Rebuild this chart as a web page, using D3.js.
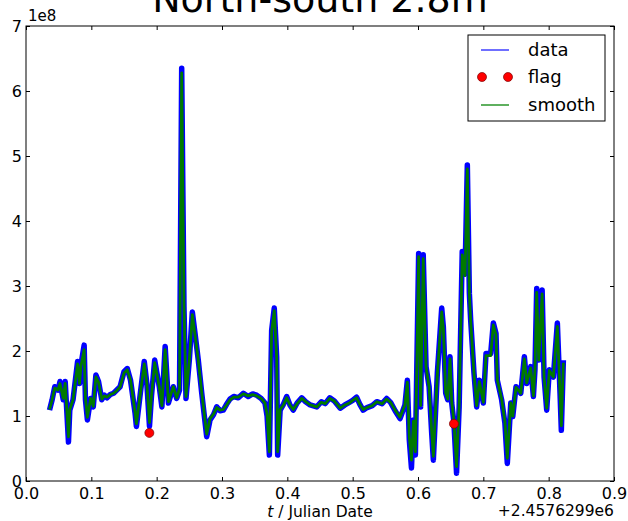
<!DOCTYPE html>
<html>
<head>
<meta charset="utf-8">
<script src="https://cdn.jsdelivr.net/npm/d3@7/dist/d3.min.js"></script>
<style>
  body { margin: 0; background: #fff; }
  text { font-family: "DejaVu Sans", sans-serif; fill: #000; }
</style>
</head>
<body>
<svg id="chart" width="628" height="521"></svg>
<script>
// time offset from 2.4576299e6 (Julian Date)
var times = [0.036, 0.040, 0.044, 0.049, 0.052, 0.057, 0.060, 0.065, 0.067, 0.072,
  0.079, 0.082, 0.084, 0.089, 0.091, 0.094, 0.099, 0.103, 0.107, 0.111,
  0.116, 0.120, 0.124, 0.129, 0.134, 0.139, 0.144, 0.150, 0.155, 0.160,
  0.167, 0.169, 0.175, 0.181, 0.185, 0.189, 0.192, 0.197, 0.204, 0.208,
  0.213, 0.218, 0.2255, 0.2306, 0.235, 0.2383, 0.2418, 0.2449, 0.250, 0.2546,
  0.2587, 0.2637, 0.269, 0.2766, 0.2817, 0.287, 0.2919, 0.297, 0.302, 0.307,
  0.3123, 0.318, 0.325, 0.3327, 0.340, 0.347, 0.353, 0.360, 0.3658, 0.369,
  0.3725, 0.376, 0.380, 0.3837, 0.3852, 0.389, 0.394, 0.399, 0.404, 0.409,
  0.415, 0.422, 0.428, 0.435, 0.445, 0.452, 0.458, 0.465, 0.472, 0.481,
  0.488, 0.495, 0.500, 0.506, 0.511, 0.516, 0.522, 0.530, 0.537, 0.545,
  0.552, 0.558, 0.565, 0.5725, 0.580, 0.5837, 0.5867, 0.590, 0.593, 0.596,
  0.601, 0.604, 0.608, 0.6123, 0.617, 0.621, 0.6235, 0.6296, 0.6363, 0.6388,
  0.6424, 0.6455, 0.649, 0.6516, 0.655, 0.659, 0.663, 0.6677, 0.672, 0.6755,
  0.6786, 0.6806, 0.6857, 0.6898, 0.6939, 0.700, 0.7041, 0.7113, 0.7153, 0.7194,
  0.7214, 0.728, 0.733, 0.7367, 0.742, 0.745, 0.750, 0.7573, 0.7628, 0.7664,
  0.7725, 0.7766, 0.779, 0.7817, 0.7848, 0.790, 0.793, 0.797, 0.801, 0.8072,
  0.8133, 0.8174, 0.8194, 0.8225];

// values in units of 1e8
var dataVals = [1.09, 1.25, 1.45, 1.40, 1.53, 1.25, 1.53, 0.60, 1.09, 1.25,
  1.84, 1.50, 1.78, 2.09, 1.25, 0.94, 1.27, 1.14, 1.63, 1.53,
  1.25, 1.32, 1.28, 1.33, 1.35, 1.40, 1.45, 1.68, 1.73, 1.55,
  1.04, 0.84, 1.35, 1.84, 1.50, 0.84, 1.30, 1.86, 1.45, 1.14,
  2.07, 1.20, 1.45, 1.27, 1.40, 6.35, 2.68, 1.27, 1.86, 2.60,
  2.27, 1.86, 1.35, 0.68, 0.94, 1.02, 1.14, 1.08, 1.09, 1.18,
  1.26, 1.30, 1.28, 1.35, 1.30, 1.34, 1.32, 1.27, 1.20, 1.00,
  0.40, 2.32, 2.66, 1.91, 0.40, 1.09, 1.18, 1.30, 1.17, 1.09,
  1.20, 1.28, 1.22, 1.17, 1.14, 1.22, 1.19, 1.28, 1.23, 1.12,
  1.17, 1.21, 1.24, 1.29, 1.18, 1.09, 1.13, 1.16, 1.22, 1.19,
  1.27, 1.21, 1.08, 0.96, 1.17, 1.55, 0.63, 0.20, 0.94, 0.40,
  3.50, 1.14, 3.48, 1.76, 1.45, 0.73, 0.32, 1.66, 2.66, 2.37,
  1.35, 1.25, 1.91, 1.20, 0.90, 0.12, 1.14, 3.53, 3.19, 4.86,
  2.89, 2.48, 1.66, 1.14, 1.55, 1.20, 1.96, 1.96, 2.43, 2.27,
  1.55, 1.25, 0.89, 0.27, 1.20, 0.99, 1.45, 1.35, 1.91, 1.50,
  1.76, 1.30, 1.71, 2.96, 1.86, 2.94, 1.60, 1.09, 1.71, 1.60,
  2.43, 1.35, 0.78, 1.86];

var smoothVals = [1.10, 1.25, 1.43, 1.40, 1.50, 1.27, 1.50, 0.68, 1.10, 1.25,
  1.80, 1.50, 1.76, 2.02, 1.27, 0.98, 1.27, 1.15, 1.60, 1.52,
  1.26, 1.31, 1.29, 1.33, 1.35, 1.39, 1.45, 1.66, 1.71, 1.55,
  1.06, 0.88, 1.35, 1.80, 1.50, 0.90, 1.30, 1.82, 1.45, 1.16,
  2.02, 1.22, 1.45, 1.28, 1.42, 6.28, 2.70, 1.30, 1.86, 2.56,
  2.25, 1.86, 1.36, 0.72, 0.96, 1.03, 1.13, 1.09, 1.10, 1.17,
  1.25, 1.29, 1.29, 1.34, 1.31, 1.33, 1.31, 1.27, 1.20, 1.03,
  0.45, 2.30, 2.62, 1.90, 0.45, 1.10, 1.17, 1.28, 1.17, 1.10,
  1.19, 1.27, 1.22, 1.17, 1.14, 1.21, 1.19, 1.27, 1.23, 1.12,
  1.17, 1.20, 1.24, 1.28, 1.18, 1.10, 1.13, 1.16, 1.22, 1.19,
  1.26, 1.21, 1.09, 0.98, 1.17, 1.52, 0.68, 0.32, 0.92, 0.45,
  3.45, 1.16, 3.42, 1.75, 1.45, 0.76, 0.38, 1.64, 2.60, 2.35,
  1.36, 1.26, 1.88, 1.22, 0.92, 0.22, 1.16, 3.48, 3.16, 4.80,
  2.88, 2.46, 1.66, 1.16, 1.53, 1.21, 1.93, 1.93, 2.40, 2.25,
  1.56, 1.26, 0.92, 0.35, 1.20, 1.00, 1.44, 1.35, 1.88, 1.51,
  1.74, 1.31, 1.70, 2.90, 1.86, 2.88, 1.60, 1.12, 1.70, 1.60,
  2.38, 1.36, 0.85, 1.82];

var flagTimes = [0.1888, 0.655];
var flagVals = [0.74, 0.88];

var xTicks = [0.0, 0.1, 0.2, 0.3, 0.4, 0.5, 0.6, 0.7, 0.8, 0.9];
var yTicks = [0, 1, 2, 3, 4, 5, 6, 7];
var legendNames = ["data", "flag", "smooth"];

var svg = d3.select("#chart");

// plot frame in pixels
var frameLeft = 26, frameRight = 614, frameTop = 26, frameBottom = 481;

var x = d3.scaleLinear().domain([0, 0.9]).range([frameLeft, frameRight]);
var y = d3.scaleLinear().domain([0, 7]).range([frameBottom, frameTop]);

// title (partly above the window, like the reference)
svg.append("text")
  .attr("x", (frameLeft + frameRight) / 2)
  .attr("y", 12)
  .attr("text-anchor", "middle")
  .attr("font-size", "38px")
  .text("North-south 2.8m");

var plot = svg.append("g");

plot.append("clipPath").attr("id", "clip")
  .append("rect")
  .attr("x", frameLeft).attr("y", frameTop)
  .attr("width", frameRight - frameLeft).attr("height", frameBottom - frameTop);

var rows = times.map(function(t, i) {
  return {t: t, d: dataVals[i], s: smoothVals[i]};
});

var dataLine = d3.line()
  .x(function(r) { return x(r.t); })
  .y(function(r) { return y(r.d); });

var smoothLine = d3.line()
  .x(function(r) { return x(r.t); })
  .y(function(r) { return y(r.s); });

plot.append("path")
  .datum(rows)
  .attr("clip-path", "url(#clip)")
  .attr("d", dataLine)
  .attr("fill", "none")
  .attr("stroke", "#0000ff")
  .attr("stroke-width", 5.5)
  .attr("stroke-linejoin", "round");

plot.append("path")
  .datum(rows)
  .attr("clip-path", "url(#clip)")
  .attr("d", smoothLine)
  .attr("fill", "none")
  .attr("stroke", "#007a00")
  .attr("stroke-width", 2.8)
  .attr("stroke-linejoin", "round");

plot.selectAll(".flag")
  .data(flagTimes)
  .enter().append("circle")
  .attr("class", "flag")
  .attr("cx", function(t) { return x(t); })
  .attr("cy", function(t, i) { return y(flagVals[i]); })
  .attr("r", 4.5)
  .attr("fill", "#ff0000")
  .attr("stroke", "#7a0000")
  .attr("stroke-width", 0.7);

// axes: ticks point inward on all four sides
svg.append("g")
  .attr("transform", "translate(0," + frameBottom + ")")
  .call(d3.axisBottom(x).tickValues(xTicks).tickSizeInner(-4).tickSizeOuter(0)
    .tickPadding(7).tickFormat(d3.format(".1f")));

svg.append("g")
  .attr("transform", "translate(0," + frameTop + ")")
  .call(d3.axisTop(x).tickValues(xTicks).tickSizeInner(-4).tickSizeOuter(0).tickFormat(""));

svg.append("g")
  .attr("transform", "translate(" + frameLeft + ",0)")
  .call(d3.axisLeft(y).tickValues(yTicks).tickSizeInner(-4).tickSizeOuter(0)
    .tickPadding(4).tickFormat(d3.format("d")));

svg.append("g")
  .attr("transform", "translate(" + frameRight + ",0)")
  .call(d3.axisRight(y).tickValues(yTicks).tickSizeInner(-4).tickSizeOuter(0).tickFormat(""));

svg.selectAll(".domain").remove();
svg.selectAll(".tick line").attr("stroke", "#000");
svg.selectAll(".tick text")
  .attr("font-size", "16px")
  .attr("font-family", "DejaVu Sans, sans-serif")
  .attr("fill", "#000");

svg.append("rect")
  .attr("x", frameLeft).attr("y", frameTop)
  .attr("width", frameRight - frameLeft).attr("height", frameBottom - frameTop)
  .attr("fill", "none")
  .attr("stroke", "#000")
  .attr("stroke-width", 1);

// exponent and offset labels
svg.append("text")
  .attr("x", frameLeft + 2).attr("y", 21)
  .attr("font-size", "15px")
  .text("1e8");

svg.append("text")
  .attr("x", frameRight).attr("y", 516)
  .attr("text-anchor", "end")
  .attr("font-size", "15.5px")
  .text("+2.4576299e6");

var xl = svg.append("text")
  .attr("x", (frameLeft + frameRight) / 2).attr("y", 517)
  .attr("text-anchor", "middle")
  .attr("font-size", "15.5px");
xl.append("tspan").attr("font-style", "italic").text("t");
xl.append("tspan").text(" / Julian Date");

// legend
var legend = svg.append("g").attr("transform", "translate(468,35)");
legend.append("rect")
  .attr("width", 137).attr("height", 86)
  .attr("fill", "#fff")
  .attr("stroke", "#000")
  .attr("stroke-width", 1);

var rowY = [15, 42, 70];
legend.selectAll(".lbl")
  .data(legendNames)
  .enter().append("text")
  .attr("class", "lbl")
  .attr("x", 60)
  .attr("y", function(d, i) { return rowY[i]; })
  .attr("dy", "0.35em")
  .attr("font-size", "18px")
  .text(function(d) { return d; });

legend.append("line")
  .attr("x1", 13).attr("x2", 41).attr("y1", rowY[0]).attr("y2", rowY[0])
  .attr("stroke", "#6f6fff").attr("stroke-width", 2);
legend.append("line")
  .attr("x1", 13).attr("x2", 41).attr("y1", rowY[2]).attr("y2", rowY[2])
  .attr("stroke", "#5fb05f").attr("stroke-width", 2);
legend.selectAll(".ldot")
  .data([14, 40])
  .enter().append("circle")
  .attr("class", "ldot")
  .attr("cx", function(d) { return d; })
  .attr("cy", rowY[1])
  .attr("r", 4.5)
  .attr("fill", "#ff0000")
  .attr("stroke", "#7a0000")
  .attr("stroke-width", 0.7);
</script>
</body>
</html>
